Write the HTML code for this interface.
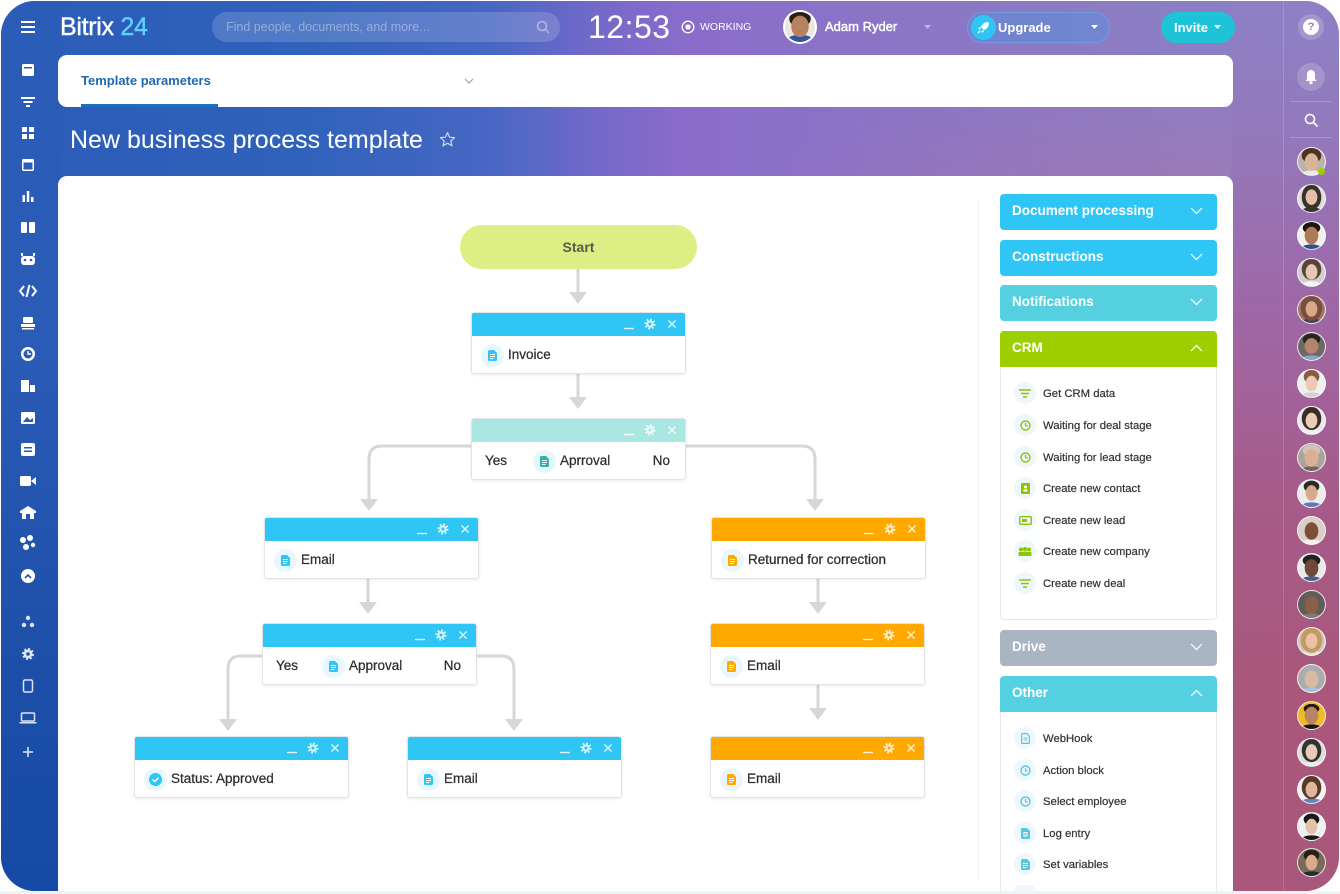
<!DOCTYPE html>
<html><head><meta charset="utf-8">
<style>
*{margin:0;padding:0;box-sizing:border-box}
html,body{width:1340px;height:894px;overflow:hidden;background:#fff;font-family:"Liberation Sans",Arial,sans-serif}
#wrap{position:absolute;left:0;top:0;width:1340px;height:894px;overflow:hidden}
.abs{position:absolute}
.frame{position:absolute;left:1px;top:1px;width:1338px;height:890px;border-radius:34px;overflow:hidden;
background:linear-gradient(90deg,#2a5cb8 0%,#3062bb 22%,#4567c3 36%,#7569c9 45%,#8a6ccb 51%,#8b76c5 68%,#8b7ec4 88%,#8f80c3 100%)}
.glow{position:absolute;left:700px;top:60px;width:600px;height:200px;background:radial-gradient(ellipse at 80% 100%,rgba(195,105,150,.45),rgba(195,105,150,0) 70%)}
.lstrip{position:absolute;left:0;top:0;width:60px;height:890px;background:linear-gradient(180deg,#2b5db8 0%,#2a5bb6 40%,#1d4fa9 75%,#164aa5 100%)}
.rstrip{position:absolute;left:1230px;top:0;width:108px;height:890px;background:linear-gradient(180deg,#8d80c5 0%,#9379bd 14%,#9f67a6 35%,#a65b8a 55%,#a9587c 75%,#a9577a 100%)}
.sep{position:absolute;left:1282px;top:0;width:1px;height:890px;background:rgba(255,255,255,.16)}
.white{color:#fff}
.card{position:absolute;background:#fff}
.node{position:absolute;width:215px;height:62px;background:#fff;border:1px solid #e1e3e5;border-radius:3px;box-shadow:0 1px 3px rgba(0,0,0,.08);overflow:hidden}
.hd{height:23px;background:#2fc6f6;position:relative}
.hd.t{background:#abe7e2}
.hd.o{background:#ffa900}
.hd svg{position:absolute;right:0;top:0;opacity:.85}
.bd{position:relative;height:38px;font-size:13.5px;color:#2e2e2e;-webkit-text-stroke:0.25px #2e2e2e}
.ic{position:absolute;top:8px;width:23px;height:23px;border-radius:50%;background:#e8f6fd;display:flex;align-items:center;justify-content:center}
.ic.o{background:#eaf6fb}
.lbl{position:absolute;top:0;line-height:38px;white-space:nowrap}
.sec{position:absolute;left:1000px;width:217px;height:36px;border-radius:4px;color:#fff;font-weight:bold;font-size:13.5px;line-height:34px;padding-left:12px}
.sec svg{position:absolute;right:14px;top:13px}
.secbody{position:absolute;left:1000px;width:217px;background:#fff;border:1px solid #e6e8ea;border-top:none;border-radius:0 0 4px 4px}
.item{position:absolute;left:1043px;font-size:11.3px;color:#333;line-height:14px;white-space:nowrap;-webkit-text-stroke:0.2px #333}
.iic{position:absolute;left:1014px;width:22px;height:22px;border-radius:50%;background:#eef7fb;display:flex;align-items:center;justify-content:center}
.av{position:absolute;left:1297px;width:29px;height:29px;border-radius:50%;border:1.5px solid rgba(255,255,255,.85);overflow:hidden}
</style></head><body><div id="wrap">

<div class="frame">
  <div class="glow"></div>
  <div class="lstrip"></div>
  <div class="rstrip"></div>
  <div class="sep"></div>
</div>

<!-- Top bar -->
<svg class="abs" style="left:21px;top:21px" width="14" height="12"><rect y="0" width="14" height="2" fill="#fff"/><rect y="5" width="14" height="2" fill="#fff"/><rect y="10" width="14" height="2" fill="#fff"/></svg>
<div class="abs white" style="left:60px;top:12px;font-size:25px;line-height:30px;letter-spacing:-0.3px;-webkit-text-stroke:0.4px #fff">Bitrix <span style="color:#5fd0ff;-webkit-text-stroke:0.4px #5fd0ff">24</span></div>
<div class="abs" style="left:212px;top:12px;width:348px;height:30px;border-radius:15px;background:rgba(255,255,255,.16)"></div>
<div class="abs" style="left:226px;top:12px;line-height:30px;font-size:12.5px;color:rgba(255,255,255,.38)">Find people, documents, and more...</div>
<svg class="abs" style="left:536px;top:20px" width="14" height="14"><circle cx="6" cy="6" r="4.5" fill="none" stroke="rgba(255,255,255,.45)" stroke-width="1.5"/><line x1="9.5" y1="9.5" x2="13" y2="13" stroke="rgba(255,255,255,.45)" stroke-width="1.5"/></svg>
<div class="abs white" style="left:588px;top:9px;font-size:32px;line-height:36px;letter-spacing:0.5px">12:53</div>
<svg class="abs" style="left:681px;top:20px" width="14" height="14"><circle cx="7" cy="7" r="5.8" fill="none" stroke="#fff" stroke-width="1.3"/><rect x="4.6" y="4.6" width="4.8" height="4.8" rx="1" fill="#fff"/></svg>
<div class="abs white" style="left:700px;top:21px;font-size:10.5px;line-height:12px">WORKING</div>
<div class="abs" style="left:783px;top:10px;width:34px;height:34px;border-radius:50%;border:2px solid #fff;overflow:hidden;background:radial-gradient(ellipse 9px 11px at 50% 48%,#b78262 0 95%,transparent 100%),radial-gradient(ellipse 11px 9px at 50% 22%,#2a1e18 0 95%,transparent 100%),radial-gradient(ellipse 16px 9px at 50% 105%,#2f55a0 0 95%,transparent 100%),#e9e6e2"></div>
<div class="abs white" style="left:825px;top:19px;font-size:13px;line-height:15px;-webkit-text-stroke:0.45px #fff">Adam Ryder</div>
<svg class="abs" style="left:924px;top:25px" width="8" height="5"><path d="M0 0H7L3.5 4Z" fill="rgba(255,255,255,.45)"/></svg>
<div class="abs" style="left:967px;top:12px;width:143px;height:31px;border-radius:16px;background:rgba(70,150,230,.38);border:1px solid rgba(120,190,255,.35)"></div>
<div class="abs" style="left:971px;top:15px;width:25px;height:25px;border-radius:50%;background:#2fc6f6"></div>
<svg class="abs" style="left:975px;top:19px" width="17" height="17"><path d="M13 3C10 3 7 5 6 8L9 11C12 10 14 7 14 4Z" fill="#fff"/><path d="M6 8L3 9L5 11ZM9 11L8 14L6 12Z" fill="#fff"/><path d="M5 12L3 14" stroke="#fff" stroke-width="1.3"/></svg>
<div class="abs white" style="left:998px;top:20px;font-size:13px;font-weight:bold;line-height:15px">Upgrade</div>
<svg class="abs" style="left:1091px;top:25px" width="8" height="5"><path d="M0 0H7L3.5 4Z" fill="#fff"/></svg>
<div class="abs" style="left:1161px;top:12px;width:74px;height:31px;border-radius:16px;background:#1fc3d8"></div>
<div class="abs white" style="left:1174px;top:20px;font-size:13px;font-weight:bold;line-height:15px">Invite</div>
<svg class="abs" style="left:1214px;top:25px" width="8" height="5"><path d="M0 0H7L3.5 4Z" fill="#fff"/></svg>

<!-- right sidebar top -->
<div class="abs" style="left:1298px;top:14px;width:26px;height:26px;border-radius:50%;background:rgba(255,255,255,.18)"></div>
<div class="abs" style="left:1303px;top:19px;width:16px;height:16px;border-radius:50%;background:#fff;color:#8c7cc4;font-size:11px;font-weight:bold;text-align:center;line-height:16px">?</div>
<div class="abs" style="left:1297px;top:63px;width:28px;height:28px;border-radius:50%;background:rgba(255,255,255,.18)"></div>
<svg class="abs" style="left:1304px;top:69px" width="14" height="16"><path d="M7 1C4 1 3 3.5 3 6V10L1.5 12H12.5L11 10V6C11 3.5 10 1 7 1Z" fill="#fff"/><circle cx="7" cy="13.5" r="1.7" fill="#fff"/></svg>
<div class="abs" style="left:1290px;top:101px;width:42px;height:1px;background:rgba(255,255,255,.2)"></div>
<svg class="abs" style="left:1304px;top:113px" width="15" height="15"><circle cx="6" cy="6" r="4.5" fill="none" stroke="#fff" stroke-width="1.6"/><line x1="9.5" y1="9.5" x2="13.5" y2="13.5" stroke="#fff" stroke-width="1.8"/></svg>
<div class="abs" style="left:1290px;top:137px;width:42px;height:1px;background:rgba(255,255,255,.2)"></div>

<!-- avatars -->
<div class="av" style="top:147px;background:radial-gradient(ellipse 7px 9px at 50% 52%,#d9b497 0 95%,transparent 100%),radial-gradient(ellipse 10px 8px at 50% 28%,#4a3426 0 95%,transparent 100%),radial-gradient(ellipse 13px 7px at 50% 108%,#e8e8e8 0 95%,transparent 100%),#b9b3aa"></div>
<div class="abs" style="left:1318px;top:168px;width:7px;height:7px;border-radius:50%;background:#9dcf00"></div>
<div class="av" style="top:184px;background:radial-gradient(ellipse 6px 8px at 50% 45%,#e2c1a8 0 95%,transparent 100%),radial-gradient(ellipse 10px 13px at 50% 45%,#3a302c 0 95%,transparent 100%),radial-gradient(ellipse 13px 7px at 50% 108%,#333 0 95%,transparent 100%),#dcdcdc"></div>
<div class="av" style="top:221px;background:radial-gradient(ellipse 7px 9px at 50% 50%,#b07a58 0 95%,transparent 100%),radial-gradient(ellipse 9px 6px at 50% 22%,#1d1714 0 95%,transparent 100%),radial-gradient(ellipse 13px 7px at 50% 108%,#2f4f8a 0 95%,transparent 100%),#f0f0f0"></div>
<div class="av" style="top:258px;background:radial-gradient(ellipse 6px 8px at 50% 48%,#e6c7b0 0 95%,transparent 100%),radial-gradient(ellipse 10px 11px at 50% 38%,#5a443a 0 95%,transparent 100%),radial-gradient(ellipse 13px 7px at 50% 108%,#f4f4f4 0 95%,transparent 100%),#cfcfcf"></div>
<div class="av" style="top:295px;background:radial-gradient(ellipse 6px 8px at 50% 48%,#d7a88a 0 95%,transparent 100%),radial-gradient(ellipse 11px 13px at 50% 45%,#7a4e3a 0 95%,transparent 100%),radial-gradient(ellipse 13px 7px at 50% 108%,#3c4350 0 95%,transparent 100%),#9a7b68"></div>
<div class="av" style="top:332px;background:radial-gradient(ellipse 7px 8px at 50% 48%,#b3856a 0 95%,transparent 100%),radial-gradient(ellipse 9px 6px at 50% 24%,#2a2420 0 95%,transparent 100%),radial-gradient(ellipse 13px 7px at 50% 108%,#8aa3c4 0 95%,transparent 100%),#6c6a66"></div>
<div class="av" style="top:369px;background:radial-gradient(ellipse 6px 8px at 50% 50%,#ecc9b3 0 95%,transparent 100%),radial-gradient(ellipse 8px 7px at 50% 25%,#8a5c40 0 95%,transparent 100%),radial-gradient(ellipse 13px 7px at 50% 108%,#d0d0d0 0 95%,transparent 100%),#efefef"></div>
<div class="av" style="top:406px;background:radial-gradient(ellipse 6px 8px at 50% 50%,#ecccb6 0 95%,transparent 100%),radial-gradient(ellipse 10px 12px at 50% 42%,#3a2c28 0 95%,transparent 100%),radial-gradient(ellipse 13px 7px at 50% 108%,#f0f0f0 0 95%,transparent 100%),#e8e8e8"></div>
<div class="av" style="top:443px;background:radial-gradient(ellipse 7px 9px at 50% 52%,#d9b093 0 95%,transparent 100%),radial-gradient(ellipse 9px 6px at 50% 24%,#c9c4be 0 95%,transparent 100%),radial-gradient(ellipse 13px 7px at 50% 108%,#6b6660 0 95%,transparent 100%),#aba49a"></div>
<div class="av" style="top:479px;background:radial-gradient(ellipse 6px 8px at 50% 48%,#d7a88a 0 95%,transparent 100%),radial-gradient(ellipse 8px 6px at 50% 24%,#2c2a2a 0 95%,transparent 100%),radial-gradient(ellipse 13px 7px at 50% 108%,#5a78b4 0 95%,transparent 100%),#ececec"></div>
<div class="av" style="top:516px;background:radial-gradient(ellipse 7px 9px at 50% 52%,#7b4f38 0 95%,transparent 100%),radial-gradient(ellipse 13px 7px at 50% 108%,#f0f0f0 0 95%,transparent 100%),#d9cfc4"></div>
<div class="av" style="top:553px;background:radial-gradient(ellipse 7px 9px at 50% 52%,#6e4a36 0 95%,transparent 100%),radial-gradient(ellipse 9px 6px at 50% 24%,#222 0 95%,transparent 100%),radial-gradient(ellipse 13px 7px at 50% 108%,#3f5f8f 0 95%,transparent 100%),#e9e9e9"></div>
<div class="av" style="top:590px;background:radial-gradient(ellipse 7px 9px at 50% 52%,#8a6048 0 95%,transparent 100%),radial-gradient(ellipse 13px 7px at 50% 108%,#7a7a7a 0 95%,transparent 100%),#5f5c5a"></div>
<div class="av" style="top:627px;background:radial-gradient(ellipse 6px 8px at 50% 48%,#e8c3a6 0 95%,transparent 100%),radial-gradient(ellipse 11px 13px at 50% 45%,#c59a5e 0 95%,transparent 100%),radial-gradient(ellipse 13px 7px at 50% 108%,#e6e0d8 0 95%,transparent 100%),#cfc7bd"></div>
<div class="av" style="top:664px;background:radial-gradient(ellipse 7px 9px at 50% 52%,#d8b9a2 0 95%,transparent 100%),radial-gradient(ellipse 13px 7px at 50% 108%,#a8bfd8 0 95%,transparent 100%),#acacac"></div>
<div class="av" style="top:701px;background:radial-gradient(ellipse 7px 9px at 50% 50%,#b98565 0 95%,transparent 100%),radial-gradient(ellipse 8px 5px at 50% 25%,#1d1a18 0 95%,transparent 100%),radial-gradient(ellipse 13px 7px at 50% 108%,#161616 0 95%,transparent 100%),#f1b929"></div>
<div class="av" style="top:738px;background:radial-gradient(ellipse 6px 8px at 50% 48%,#e8cbb6 0 95%,transparent 100%),radial-gradient(ellipse 10px 12px at 50% 42%,#333 0 95%,transparent 100%),radial-gradient(ellipse 13px 7px at 50% 108%,#ececec 0 95%,transparent 100%),#dcdcdc"></div>
<div class="av" style="top:775px;background:radial-gradient(ellipse 6px 8px at 50% 50%,#e0b79d 0 95%,transparent 100%),radial-gradient(ellipse 10px 12px at 50% 42%,#5a3a26 0 95%,transparent 100%),radial-gradient(ellipse 13px 7px at 50% 108%,#5f86b8 0 95%,transparent 100%),#f2f2f2"></div>
<div class="av" style="top:812px;background:radial-gradient(ellipse 6px 8px at 50% 50%,#e3c0a8 0 95%,transparent 100%),radial-gradient(ellipse 8px 6px at 50% 24%,#1a1a1a 0 95%,transparent 100%),radial-gradient(ellipse 13px 7px at 50% 108%,#1b1b1b 0 95%,transparent 100%),#f0f0f0"></div>
<div class="av" style="top:848px;background:radial-gradient(ellipse 6px 8px at 50% 50%,#d9ab8c 0 95%,transparent 100%),radial-gradient(ellipse 8px 6px at 50% 24%,#2a1e16 0 95%,transparent 100%),radial-gradient(ellipse 13px 7px at 50% 108%,#2a2a2a 0 95%,transparent 100%),#7a6a5a"></div>

<!-- left sidebar icons -->
<svg class="abs" style="left:0;top:0" width="58" height="894">
<g fill="#fff">
<rect x="22" y="64" width="12" height="12" rx="1.5"/><rect x="24" y="67" width="8" height="1.5" fill="#2b5db8"/>
<rect x="21" y="97" width="14" height="2"/><rect x="23.5" y="101" width="9" height="2"/><rect x="26" y="105" width="4" height="2"/>
<rect x="22" y="127" width="5" height="5"/><rect x="29" y="127" width="5" height="5"/><rect x="22" y="134" width="5" height="5"/><rect x="29" y="134" width="5" height="5"/>
<rect x="22" y="159" width="12" height="12" rx="1.5"/><rect x="23.5" y="162.5" width="9" height="7" fill="#2b5db8"/>
<rect x="22.5" y="195" width="2.5" height="7"/><rect x="26.8" y="191" width="2.5" height="11"/><rect x="31" y="197" width="2.5" height="5"/>
<rect x="21" y="222" width="6" height="11" rx="1"/><rect x="29" y="222" width="6" height="11" rx="1"/>
<rect x="21" y="256" width="14" height="9" rx="3"/><circle cx="25" cy="260" r="1.3" fill="#2b5db8"/><circle cx="31" cy="260" r="1.3" fill="#2b5db8"/><rect x="21" y="253" width="2" height="3"/><rect x="33" y="253" width="2" height="3"/>
</g>
<g fill="none" stroke="#fff" stroke-width="2">
<path d="M24 286L20 291L24 296M32 286L36 291L32 296M29.5 285L26.5 297"/>
</g>
<g fill="#fff">
<rect x="21" y="324" width="14" height="3"/><rect x="23" y="317" width="10" height="6" rx="1"/><rect x="22" y="328" width="12" height="1.5"/>
<circle cx="28" cy="354" r="7"/><circle cx="28" cy="354" r="4.5" fill="#2a5bb6"/><path d="M28 351V354H31" stroke="#fff" stroke-width="1.4" fill="none"/>
<rect x="21" y="380" width="8" height="12"/><rect x="30" y="385" width="5" height="7"/>
<rect x="21" y="412" width="14" height="12" rx="1.5"/><path d="M23 422L27 417L30 420L33 418V422Z" fill="#2a5ab5"/>
<rect x="21" y="443" width="14" height="13" rx="2"/><rect x="24" y="447" width="8" height="1.5" fill="#2659b4"/><rect x="24" y="450.5" width="8" height="1.5" fill="#2659b4"/>
<rect x="20" y="476" width="11" height="10" rx="1.5"/><path d="M31 481L36 477V485Z"/>
<path d="M20 511L28 506L36 511V513H20Z"/><rect x="22" y="513" width="12" height="6"/><rect x="26" y="514" width="4" height="5" fill="#2357b2"/>
<circle cx="23" cy="540" r="3"/><circle cx="30" cy="538" r="3"/><circle cx="26" cy="547" r="3"/><circle cx="33" cy="545" r="2.2"/>
<circle cx="28" cy="576" r="7"/>
</g>
<path d="M25 578L28 575L31 578" stroke="#1f52ab" stroke-width="1.6" fill="none"/>
<g fill="rgba(255,255,255,.85)">
<circle cx="28" cy="618" r="2.2"/><circle cx="24" cy="625" r="2.2"/><circle cx="32" cy="625" r="2.2"/>
<circle cx="28" cy="654" r="4.5"/>
</g>
<circle cx="28" cy="654" r="5" fill="none" stroke="rgba(255,255,255,.85)" stroke-width="2" stroke-dasharray="2 1.9"/>
<circle cx="28" cy="654" r="1.8" fill="#1d50aa"/>
<rect x="23.5" y="680" width="9" height="12" rx="1.5" fill="none" stroke="rgba(255,255,255,.85)" stroke-width="1.5"/>
<rect x="21.5" y="713" width="13" height="8" rx="1" fill="none" stroke="rgba(255,255,255,.85)" stroke-width="1.5"/><rect x="19.5" y="722" width="17" height="1.5" fill="rgba(255,255,255,.85)"/>
<path d="M28 747V757M23 752H33" stroke="rgba(255,255,255,.85)" stroke-width="1.6"/>
</svg>

<!-- template parameters card -->
<div class="card" style="left:58px;top:55px;width:1175px;height:52px;border-radius:9px"></div>
<div class="abs" style="left:81px;top:73px;font-size:13px;font-weight:bold;color:#1f68b4;line-height:16px">Template parameters</div>
<div class="abs" style="left:81px;top:104px;width:137px;height:3px;background:#1f6fc0"></div>
<svg class="abs" style="left:464px;top:78px" width="10" height="6"><path d="M1 1L5 5L9 1" stroke="#9aa3ad" stroke-width="1.2" fill="none"/></svg>

<!-- title -->
<div class="abs white" style="left:70px;top:125px;font-size:25px;line-height:30px">New business process template</div>
<svg class="abs" style="left:439px;top:131px" width="17" height="17"><path d="M8.5 1.5L10.6 6.2L15.6 6.6L11.8 9.9L13 14.9L8.5 12.2L4 14.9L5.2 9.9L1.4 6.6L6.4 6.2Z" fill="none" stroke="rgba(255,255,255,.75)" stroke-width="1.2" stroke-linejoin="round"/></svg>

<!-- main card -->
<div class="card" style="left:58px;top:176px;width:1175px;height:715px;border-radius:9px 9px 0 0"></div>
<div class="abs" style="left:978px;top:200px;width:1px;height:680px;background:#eef0f2"></div>
<div class="abs" style="left:0;top:891px;width:1340px;height:3px;background:#edf4f4"></div>

<!-- connectors -->
<svg class="abs" style="left:0;top:0" width="1340" height="894">
<g stroke="#d7d7d9" stroke-width="3" fill="none">
<path d="M578 269V294"/>
<path d="M578 374V399"/>
<path d="M471 446H382Q369 446 369 459V500"/>
<path d="M686 446H802Q815 446 815 459V500"/>
<path d="M368 579V604"/>
<path d="M262 656H241Q228 656 228 669V720"/>
<path d="M477 656H501Q514 656 514 669V720"/>
<path d="M818 579V604"/>
<path d="M818 685V710"/>
</g>
<g fill="#d7d7d9">
<path d="M569 292H587L578 304Z"/>
<path d="M569 397H587L578 409Z"/>
<path d="M360 499H378L369 511Z"/>
<path d="M806 499H824L815 511Z"/>
<path d="M359 602H377L368 614Z"/>
<path d="M219 719H237L228 731Z"/>
<path d="M505 719H523L514 731Z"/>
<path d="M809 602H827L818 614Z"/>
<path d="M809 708H827L818 720Z"/>
</g>
</svg>

<!-- Start -->
<div class="abs" style="left:460px;top:225px;width:237px;height:44px;border-radius:22px;background:#dcee84;text-align:center;line-height:44px;font-size:14px;font-weight:bold;color:#535c4a">Start</div>

<!-- Invoice -->
<div class="node" style="left:471px;top:312px">
  <div class="hd"><svg width="66" height="23"><path d="M5 15.5H15" stroke="#fff" stroke-width="1.4"/><circle cx="31" cy="11" r="3.6" fill="#fff"/><circle cx="31" cy="11" r="4.6" fill="none" stroke="#fff" stroke-width="1.8" stroke-dasharray="1.8 1.8"/><circle cx="31" cy="11" r="1.6" fill="#2fc6f6"/><path d="M49.5 7.5L56.5 14.5M56.5 7.5L49.5 14.5" stroke="#fff" stroke-width="1.4"/></svg></div>
  <div class="bd"><div class="ic" style="left:9px"><svg width="9" height="11"><path d="M0 1.5Q0 0 1.5 0H6L9 3V9.5Q9 11 7.5 11H1.5Q0 11 0 9.5Z" fill="#2fc6f6"/><path d="M2 4.5H7M2 6.5H7M2 8.5H5.5" stroke="#fff" stroke-width="1"/></svg></div><div class="lbl" style="left:36px">Invoice</div></div>
</div>

<!-- Approval 1 -->
<div class="node" style="left:471px;top:418px">
  <div class="hd t"><svg width="66" height="23"><path d="M5 15.5H15" stroke="#fff" stroke-width="1.4"/><circle cx="31" cy="11" r="3.6" fill="#fff"/><circle cx="31" cy="11" r="4.6" fill="none" stroke="#fff" stroke-width="1.8" stroke-dasharray="1.8 1.8"/><circle cx="31" cy="11" r="1.6" fill="#abe7e2"/><path d="M49.5 7.5L56.5 14.5M56.5 7.5L49.5 14.5" stroke="#fff" stroke-width="1.4"/></svg></div>
  <div class="bd"><div class="lbl" style="left:13px">Yes</div><div class="ic" style="left:61px;background:#e6f7f7"><svg width="9" height="11"><path d="M0 1.5Q0 0 1.5 0H6L9 3V9.5Q9 11 7.5 11H1.5Q0 11 0 9.5Z" fill="#2bb3b0"/><path d="M2 4.5H7M2 6.5H7M2 8.5H5.5" stroke="#fff" stroke-width="1"/></svg></div><div class="lbl" style="left:88px">Aprroval</div><div class="lbl" style="right:15px">No</div></div>
</div>

<!-- Email left -->
<div class="node" style="left:264px;top:517px">
  <div class="hd"><svg width="66" height="23"><path d="M5 15.5H15" stroke="#fff" stroke-width="1.4"/><circle cx="31" cy="11" r="3.6" fill="#fff"/><circle cx="31" cy="11" r="4.6" fill="none" stroke="#fff" stroke-width="1.8" stroke-dasharray="1.8 1.8"/><circle cx="31" cy="11" r="1.6" fill="#2fc6f6"/><path d="M49.5 7.5L56.5 14.5M56.5 7.5L49.5 14.5" stroke="#fff" stroke-width="1.4"/></svg></div>
  <div class="bd"><div class="ic" style="left:9px"><svg width="9" height="11"><path d="M0 1.5Q0 0 1.5 0H6L9 3V9.5Q9 11 7.5 11H1.5Q0 11 0 9.5Z" fill="#2fc6f6"/><path d="M2 4.5H7M2 6.5H7M2 8.5H5.5" stroke="#fff" stroke-width="1"/></svg></div><div class="lbl" style="left:36px">Email</div></div>
</div>

<!-- Approval 2 -->
<div class="node" style="left:262px;top:623px">
  <div class="hd"><svg width="66" height="23"><path d="M5 15.5H15" stroke="#fff" stroke-width="1.4"/><circle cx="31" cy="11" r="3.6" fill="#fff"/><circle cx="31" cy="11" r="4.6" fill="none" stroke="#fff" stroke-width="1.8" stroke-dasharray="1.8 1.8"/><circle cx="31" cy="11" r="1.6" fill="#2fc6f6"/><path d="M49.5 7.5L56.5 14.5M56.5 7.5L49.5 14.5" stroke="#fff" stroke-width="1.4"/></svg></div>
  <div class="bd"><div class="lbl" style="left:13px">Yes</div><div class="ic" style="left:59px"><svg width="9" height="11"><path d="M0 1.5Q0 0 1.5 0H6L9 3V9.5Q9 11 7.5 11H1.5Q0 11 0 9.5Z" fill="#2fc6f6"/><path d="M2 4.5H7M2 6.5H7M2 8.5H5.5" stroke="#fff" stroke-width="1"/></svg></div><div class="lbl" style="left:86px">Approval</div><div class="lbl" style="right:15px">No</div></div>
</div>

<!-- Status approved -->
<div class="node" style="left:134px;top:736px">
  <div class="hd"><svg width="66" height="23"><path d="M5 15.5H15" stroke="#fff" stroke-width="1.4"/><circle cx="31" cy="11" r="3.6" fill="#fff"/><circle cx="31" cy="11" r="4.6" fill="none" stroke="#fff" stroke-width="1.8" stroke-dasharray="1.8 1.8"/><circle cx="31" cy="11" r="1.6" fill="#2fc6f6"/><path d="M49.5 7.5L56.5 14.5M56.5 7.5L49.5 14.5" stroke="#fff" stroke-width="1.4"/></svg></div>
  <div class="bd"><div class="ic" style="left:9px"><svg width="13" height="13"><circle cx="6.5" cy="6.5" r="6.5" fill="#2fc6f6"/><path d="M3.6 6.6L5.7 8.6L9.4 4.8" stroke="#fff" stroke-width="1.5" fill="none"/></svg></div><div class="lbl" style="left:36px">Status: Approved</div></div>
</div>

<!-- Email mid -->
<div class="node" style="left:407px;top:736px">
  <div class="hd"><svg width="66" height="23"><path d="M5 15.5H15" stroke="#fff" stroke-width="1.4"/><circle cx="31" cy="11" r="3.6" fill="#fff"/><circle cx="31" cy="11" r="4.6" fill="none" stroke="#fff" stroke-width="1.8" stroke-dasharray="1.8 1.8"/><circle cx="31" cy="11" r="1.6" fill="#2fc6f6"/><path d="M49.5 7.5L56.5 14.5M56.5 7.5L49.5 14.5" stroke="#fff" stroke-width="1.4"/></svg></div>
  <div class="bd"><div class="ic" style="left:9px"><svg width="9" height="11"><path d="M0 1.5Q0 0 1.5 0H6L9 3V9.5Q9 11 7.5 11H1.5Q0 11 0 9.5Z" fill="#2fc6f6"/><path d="M2 4.5H7M2 6.5H7M2 8.5H5.5" stroke="#fff" stroke-width="1"/></svg></div><div class="lbl" style="left:36px">Email</div></div>
</div>

<!-- Returned -->
<div class="node" style="left:711px;top:517px">
  <div class="hd o"><svg width="66" height="23"><path d="M5 15.5H15" stroke="#fff" stroke-width="1.4"/><circle cx="31" cy="11" r="3.6" fill="#fff"/><circle cx="31" cy="11" r="4.6" fill="none" stroke="#fff" stroke-width="1.8" stroke-dasharray="1.8 1.8"/><circle cx="31" cy="11" r="1.6" fill="#ffa900"/><path d="M49.5 7.5L56.5 14.5M56.5 7.5L49.5 14.5" stroke="#fff" stroke-width="1.4"/></svg></div>
  <div class="bd"><div class="ic o" style="left:9px"><svg width="9" height="11"><path d="M0 1.5Q0 0 1.5 0H6L9 3V9.5Q9 11 7.5 11H1.5Q0 11 0 9.5Z" fill="#ffa900"/><path d="M2 4.5H7M2 6.5H7M2 8.5H5.5" stroke="#fff" stroke-width="1"/></svg></div><div class="lbl" style="left:36px">Returned for correction</div></div>
</div>

<!-- Email orange 1 -->
<div class="node" style="left:710px;top:623px">
  <div class="hd o"><svg width="66" height="23"><path d="M5 15.5H15" stroke="#fff" stroke-width="1.4"/><circle cx="31" cy="11" r="3.6" fill="#fff"/><circle cx="31" cy="11" r="4.6" fill="none" stroke="#fff" stroke-width="1.8" stroke-dasharray="1.8 1.8"/><circle cx="31" cy="11" r="1.6" fill="#ffa900"/><path d="M49.5 7.5L56.5 14.5M56.5 7.5L49.5 14.5" stroke="#fff" stroke-width="1.4"/></svg></div>
  <div class="bd"><div class="ic o" style="left:9px"><svg width="9" height="11"><path d="M0 1.5Q0 0 1.5 0H6L9 3V9.5Q9 11 7.5 11H1.5Q0 11 0 9.5Z" fill="#ffa900"/><path d="M2 4.5H7M2 6.5H7M2 8.5H5.5" stroke="#fff" stroke-width="1"/></svg></div><div class="lbl" style="left:36px">Email</div></div>
</div>

<!-- Email orange 2 -->
<div class="node" style="left:710px;top:736px">
  <div class="hd o"><svg width="66" height="23"><path d="M5 15.5H15" stroke="#fff" stroke-width="1.4"/><circle cx="31" cy="11" r="3.6" fill="#fff"/><circle cx="31" cy="11" r="4.6" fill="none" stroke="#fff" stroke-width="1.8" stroke-dasharray="1.8 1.8"/><circle cx="31" cy="11" r="1.6" fill="#ffa900"/><path d="M49.5 7.5L56.5 14.5M56.5 7.5L49.5 14.5" stroke="#fff" stroke-width="1.4"/></svg></div>
  <div class="bd"><div class="ic o" style="left:9px"><svg width="9" height="11"><path d="M0 1.5Q0 0 1.5 0H6L9 3V9.5Q9 11 7.5 11H1.5Q0 11 0 9.5Z" fill="#ffa900"/><path d="M2 4.5H7M2 6.5H7M2 8.5H5.5" stroke="#fff" stroke-width="1"/></svg></div><div class="lbl" style="left:36px">Email</div></div>
</div>

<!-- Right panel -->
<div class="sec" style="top:194px;background:#2fc6f6">Document processing<svg width="13" height="8"><path d="M1 1L6.5 6.5L12 1" stroke="#fff" stroke-width="1.4" fill="none" opacity=".85"/></svg></div>
<div class="sec" style="top:240px;background:#2fc6f6">Constructions<svg width="13" height="8"><path d="M1 1L6.5 6.5L12 1" stroke="#fff" stroke-width="1.4" fill="none" opacity=".85"/></svg></div>
<div class="sec" style="top:285px;background:#55d0e0">Notifications<svg width="13" height="8"><path d="M1 1L6.5 6.5L12 1" stroke="#fff" stroke-width="1.4" fill="none" opacity=".85"/></svg></div>
<div class="sec" style="top:331px;background:#9dcf00;border-radius:4px 4px 0 0">CRM<svg width="13" height="8"><path d="M1 7L6.5 1.5L12 7" stroke="#fff" stroke-width="1.4" fill="none" opacity=".9"/></svg></div>
<div class="secbody" style="top:367px;height:253px"></div>

<div class="iic" style="top:382px"><svg width="12" height="9"><path d="M0 1H12M2 4.5H10M4 8H8" stroke="#8fc400" stroke-width="1.6"/></svg></div>
<div class="item" style="top:387px">Get CRM data</div>
<div class="iic" style="top:414px"><svg width="11" height="11"><circle cx="5.5" cy="5.5" r="4.5" fill="none" stroke="#8fc400" stroke-width="1.4"/><path d="M5.5 3V5.8H7.8" stroke="#8fc400" stroke-width="1.2" fill="none"/></svg></div>
<div class="item" style="top:419px">Waiting for deal stage</div>
<div class="iic" style="top:446px"><svg width="11" height="11"><circle cx="5.5" cy="5.5" r="4.5" fill="none" stroke="#8fc400" stroke-width="1.4"/><path d="M5.5 3V5.8H7.8" stroke="#8fc400" stroke-width="1.2" fill="none"/></svg></div>
<div class="item" style="top:451px">Waiting for lead stage</div>
<div class="iic" style="top:477px"><svg width="9" height="11"><rect width="9" height="11" rx="1" fill="#8fc400"/><circle cx="4.5" cy="4" r="1.5" fill="#fff"/><rect x="2.5" y="6.5" width="4" height="2" fill="#fff"/></svg></div>
<div class="item" style="top:482px">Create new contact</div>
<div class="iic" style="top:509px"><svg width="13" height="9"><rect x="0.7" y="0.7" width="11.6" height="7.6" rx="1" fill="none" stroke="#8fc400" stroke-width="1.4"/><rect x="3" y="3" width="5" height="3" fill="#8fc400"/></svg></div>
<div class="item" style="top:514px">Create new lead</div>
<div class="iic" style="top:540px"><svg width="14" height="9"><g fill="#8fc400"><circle cx="3" cy="2.5" r="2"/><circle cx="7" cy="2" r="2"/><circle cx="11" cy="2.5" r="2"/><rect x="0.5" y="5" width="5" height="4" rx="1"/><rect x="4.5" y="4.5" width="5" height="4.5" rx="1"/><rect x="8.5" y="5" width="5" height="4" rx="1"/></g></svg></div>
<div class="item" style="top:545px">Create new company</div>
<div class="iic" style="top:572px"><svg width="12" height="9"><path d="M0 1H12M2 4.5H10M4 8H8" stroke="#8fc400" stroke-width="1.6"/></svg></div>
<div class="item" style="top:577px">Create new deal</div>

<div class="sec" style="top:630px;background:#a9b5c3">Drive<svg width="13" height="8"><path d="M1 1L6.5 6.5L12 1" stroke="#fff" stroke-width="1.4" fill="none" opacity=".85"/></svg></div>
<div class="sec" style="top:676px;background:#55d0e0;border-radius:4px 4px 0 0">Other<svg width="13" height="8"><path d="M1 7L6.5 1.5L12 7" stroke="#fff" stroke-width="1.4" fill="none" opacity=".9"/></svg></div>
<div class="secbody" style="top:712px;height:179px;border-bottom:none;border-radius:0"></div>

<div class="iic" style="top:727px"><svg width="9" height="11"><path d="M0.6 1.5Q0.6 0.6 1.5 0.6H5.8L8.4 3.2V9.5Q8.4 10.4 7.5 10.4H1.5Q0.6 10.4 0.6 9.5Z" fill="none" stroke="#55c8dc" stroke-width="1.2"/><path d="M2.5 5H6.5M2.5 7H6.5" stroke="#55c8dc" stroke-width="1"/></svg></div>
<div class="item" style="top:732px">WebHook</div>
<div class="iic" style="top:759px"><svg width="11" height="11"><circle cx="5.5" cy="5.5" r="4.5" fill="none" stroke="#55c8dc" stroke-width="1.4"/><path d="M5.5 3V5.8H7.8" stroke="#55c8dc" stroke-width="1.2" fill="none"/></svg></div>
<div class="item" style="top:764px">Action block</div>
<div class="iic" style="top:790px"><svg width="11" height="11"><circle cx="5.5" cy="5.5" r="4.5" fill="none" stroke="#55c8dc" stroke-width="1.4"/><path d="M5.5 3V5.8H7.8" stroke="#55c8dc" stroke-width="1.2" fill="none"/></svg></div>
<div class="item" style="top:795px">Select employee</div>
<div class="iic" style="top:822px"><svg width="9" height="11"><path d="M0 1.5Q0 0 1.5 0H6L9 3V9.5Q9 11 7.5 11H1.5Q0 11 0 9.5Z" fill="#55c8dc"/><rect x="3" y="4.5" width="3" height="3.5" fill="none" stroke="#fff" stroke-width="1"/></svg></div>
<div class="item" style="top:827px">Log entry</div>
<div class="iic" style="top:853px"><svg width="9" height="11"><path d="M0 1.5Q0 0 1.5 0H6L9 3V9.5Q9 11 7.5 11H1.5Q0 11 0 9.5Z" fill="#55c8dc"/><path d="M2 4.5H7M2 6.5H7M2 8.5H5.5" stroke="#fff" stroke-width="1"/></svg></div>
<div class="item" style="top:858px">Set variables</div>
<div class="abs" style="left:1014px;top:885px;width:22px;height:6px;border-radius:11px 11px 0 0;background:#eef7fb"></div>

</div></body></html>
